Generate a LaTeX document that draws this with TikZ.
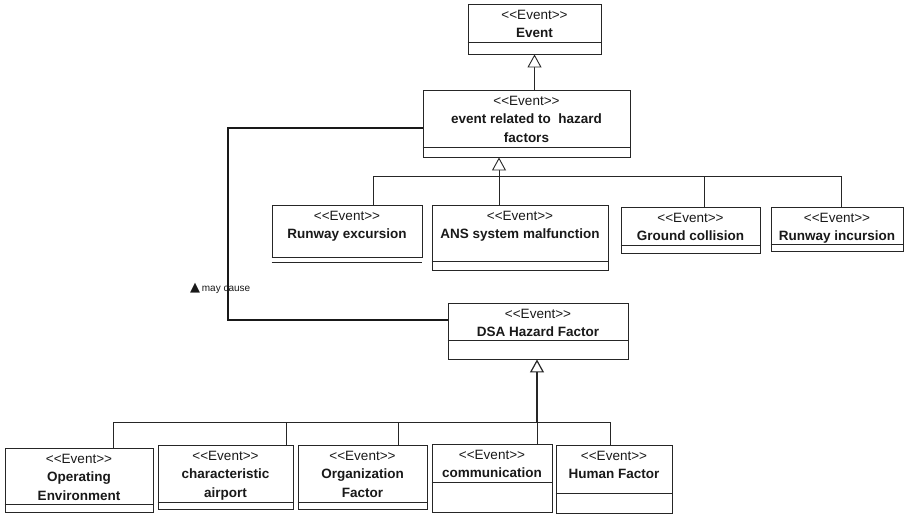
\documentclass[tikz,border=0pt]{standalone}
\usepackage{fontspec}
\setmainfont[Ligatures=NoCommon]{Liberation Sans}
\newfontfamily\symfont{DejaVu Sans}
\usetikzlibrary{arrows.meta,fit,calc}

% stereotype text, braces keep the angle brackets from joining
\newcommand\stereo{{<}{<}Event{>}{>}}

\tikzset{
  classbox/.style={draw=black!85, line width=0.9pt, inner sep=0pt, fill=white},
  rule/.style={draw=black!85, line width=0.9pt},
  classtext/.style={inner sep=0pt, align=center, text=black!90,
    font=\fontsize{13.5}{18.5}\selectfont},
  tree/.style={draw=black!85, line width=0.9pt},
  gen/.style={draw=black!85, line width=0.9pt,
    -{Triangle[open, width=14pt, length=13pt, line width=0.9pt, fill=white]}},
  genthick/.style={draw=black!85, line width=1.8pt,
    -{Triangle[open, width=14pt, length=13pt, line width=1.2pt, fill=white]}},
  assoc/.style={draw=black!90, line width=2.4pt},
  assoclabel/.style={inner sep=0pt, font=\fontsize{10}{12}\selectfont, text=black!90},
}

% #1 name, #2 left, #3 top, #4 right, #5 bottom, #6 compartment line, #7 title lines
\newcommand\umlclass[7]{%
  \coordinate (#1-nw) at (#2,#3);
  \coordinate (#1-se) at (#4,#5);
  \node[classbox, fit=(#1-nw)(#1-se)] (#1) {};
  \draw[rule] (#1.west |- 0,#6) -- (#1.east |- 0,#6);
  \node[classtext, anchor=north] (#1-t) at ($(#1.north)+(0,6.2)$)
    {\stereo\\#7};
}

\begin{document}
\begin{tikzpicture}[x=1pt, y=-1pt]
  \useasboundingbox (0,0) rectangle (913,515);

  % top hierarchy
  \umlclass{ev}{468}{4}{601}{54}{42}{\textbf{Event}}
  \umlclass{ere}{423}{90}{630}{157}{147}{\textbf{event related to\ \ hazard}\\\textbf{factors}}

  % hazard-related events
  \umlclass{rex}{272}{205}{422}{257}{257}{\textbf{Runway excursion}}
  \draw[rule] (rex.south west) ++(0,5) coordinate (rex-l) -- (rex-l -| rex.east);
  \umlclass{ans}{432}{205}{608}{270}{261}{\textbf{ANS system malfunction}}
  \umlclass{gc}{621}{207}{760}{253}{245}{\textbf{Ground collision}}
  \umlclass{rin}{771}{207}{903}{251}{244}{\textbf{Runway incursion}}

  % hazard factors
  \umlclass{dsa}{448}{303}{628}{359}{340}{\textbf{DSA Hazard Factor}}
  \umlclass{oe}{5}{448}{153}{512}{504}{\textbf{Operating}\\\textbf{Environment}}
  \umlclass{ca}{158}{445}{293}{509}{502}{\textbf{characteristic}\\\textbf{airport}}
  \umlclass{of}{298}{445}{427}{509}{502}{\textbf{Organization}\\\textbf{Factor}}
  \umlclass{com}{432}{444}{552}{512}{482}{\textbf{communication}}
  \umlclass{hf}{556}{445}{672}{513}{493}{\textbf{Human Factor}}

  % Event <- event related to hazard factors
  \draw[gen] (ev.south |- ere.north) -- (ev.south);

  % generalisation tree for the events
  \coordinate (j1) at (373,176);
  \coordinate (j2) at (499,176);
  \coordinate (j3) at (704,176);
  \coordinate (j4) at (841,176);
  \draw[tree] (j1) -- (j4);
  \draw[tree] (j1) -- (rex.north -| j1);
  \draw[tree] (j2) -- (ans.north -| j2);
  \draw[tree] (j3) -- (gc.north -| j3);
  \draw[tree] (j4) -- (rin.north -| j4);
  \draw[gen] (j2) -- (ere.south -| j2);

  % generalisation tree for the hazard factors
  \coordinate (k1) at (113,422);
  \coordinate (k2) at (286,422);
  \coordinate (k3) at (398,422);
  \coordinate (k4) at (537,422);
  \coordinate (k5) at (610,422);
  \draw[tree] (k1) -- (k5);
  \draw[tree] (k1) -- (oe.north -| k1);
  \draw[tree] (k2) -- (ca.north -| k2);
  \draw[tree] (k3) -- (of.north -| k3);
  \draw[tree] (k4) -- (com.north -| k4);
  \draw[tree] (k5) -- (hf.north -| k5);
  \draw[genthick] (k4) -- (dsa.south -| k4);

  % association "may cause"
  \coordinate (a1) at (228,128);
  \coordinate (a2) at (228,320);
  \draw[assoc] (ere.west |- a1) -- (a1) -- (a2) -- (dsa.west |- a2);
  \node[assoclabel, anchor=west] (mc) at (190,288)
    {{\symfont\fontsize{13}{14}\selectfont ▲}\,may cause};
\end{tikzpicture}
\end{document}
